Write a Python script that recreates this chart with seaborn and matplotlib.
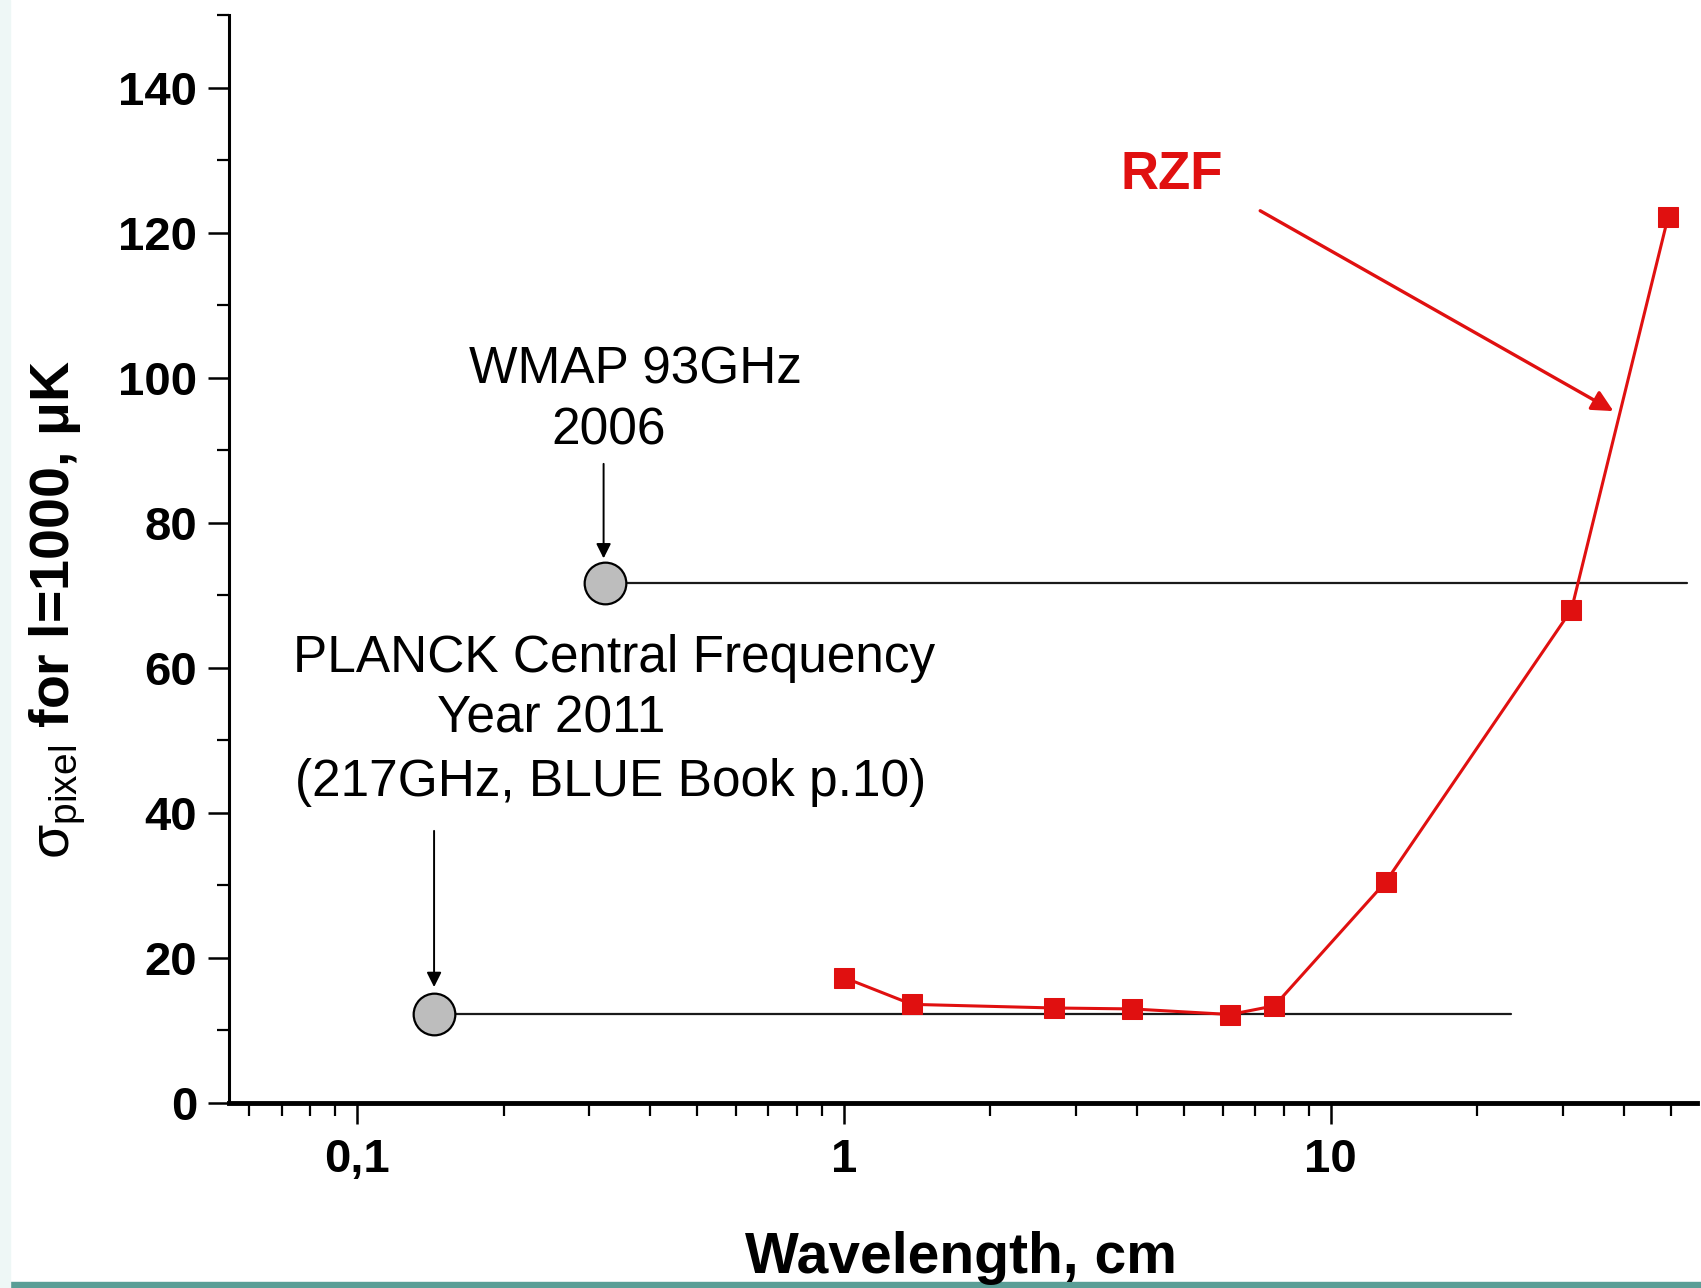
import numpy as np
import pandas as pd
import matplotlib
matplotlib.use("Agg")
import matplotlib.pyplot as plt
import matplotlib.ticker as mticker
from matplotlib.patches import Rectangle
import seaborn as sns

# ---- data ----
rzf_wavelength = [1.0, 1.38, 2.70, 3.91, 6.21, 7.66, 12.97, 31.2, 49.3]
rzf_sigma = [17.3, 13.6, 13.1, 12.97, 12.2, 13.4, 30.5, 68.0, 122.2]

wmap_wavelength = [0.323, 53.8]
wmap_sigma = [71.7, 71.7]
planck_wavelength = [0.144, 23.4]
planck_sigma = [12.3, 12.3]

y_ticks = [0, 20, 40, 60, 80, 100, 120, 140]
x_ticks = [0.1, 1, 10]
x_tick_labels = ["0,1", "1", "10"]

sns.set_theme(style="ticks")
plt.rcParams['font.family'] = ['Liberation Sans', 'DejaVu Sans']
plt.rcParams['mathtext.fontset'] = 'custom'
plt.rcParams['mathtext.rm'] = 'Liberation Sans'
plt.rcParams['mathtext.it'] = 'Liberation Sans:italic'
plt.rcParams['mathtext.bf'] = 'Liberation Sans:bold'
plt.rcParams['text.color'] = 'black'
plt.rcParams['axes.labelcolor'] = 'black'
plt.rcParams['xtick.color'] = 'black'
plt.rcParams['ytick.color'] = 'black'

fig = plt.figure(figsize=(17.01, 12.88), dpi=100)
fig.patch.set_facecolor("white")
ax = fig.add_axes([229/1701, 1 - 1103/1288, (1697 - 229)/1701, (1103 - 15)/1288])
ax.set_facecolor("white")

# decorative frame elements
fig.patches.append(Rectangle((0, 0), 1, 6/1288, transform=fig.transFigure,
                             color="#5a9e96", zorder=0))
fig.patches.append(Rectangle((0, 0), 10/1701, 1, transform=fig.transFigure,
                             color="#eef7f6", zorder=0))

red = "#e01010"

# reference lines
df_w = pd.DataFrame({"x": wmap_wavelength, "y": wmap_sigma})
df_p = pd.DataFrame({"x": planck_wavelength, "y": planck_sigma})
sns.lineplot(data=df_w, x="x", y="y", ax=ax, color="#1a1a1a", lw=1.6, zorder=2)
sns.lineplot(data=df_p, x="x", y="y", ax=ax, color="#1a1a1a", lw=1.6, zorder=2)
ax.plot(wmap_wavelength[:1], wmap_sigma[:1], "o", ms=30, mfc="#bdbdbd",
        mec="black", mew=1.6, zorder=4)
ax.plot(planck_wavelength[:1], planck_sigma[:1], "o", ms=30, mfc="#bdbdbd",
        mec="black", mew=1.6, zorder=4)

# RZF curve
df_r = pd.DataFrame({"x": rzf_wavelength, "y": rzf_sigma})
sns.lineplot(data=df_r, x="x", y="y", ax=ax, color=red, lw=2.2, marker="s",
             markersize=14, markeredgecolor=red, markerfacecolor=red, zorder=5)

ax.set_xscale("log")
ax.set_xlim(0.0546, 56.5)
ax.set_ylim(0, 150)

ax.set_xticks(x_ticks)
ax.set_xticklabels(x_tick_labels)
ax.xaxis.set_minor_locator(mticker.LogLocator(base=10, subs=np.arange(2, 10)))
ax.xaxis.set_minor_formatter(mticker.NullFormatter())
ax.set_yticks(y_ticks)
ax.yaxis.set_minor_locator(mticker.MultipleLocator(10))

for lab in ax.get_xticklabels() + ax.get_yticklabels():
    lab.set_fontweight("bold")
ax.tick_params(axis="both", which="major", labelsize=34, length=15, width=1.8,
               direction="out", color="black", pad=8)
ax.tick_params(axis="both", which="minor", length=9, width=1.6, direction="out",
               color="black")
ax.tick_params(axis="x", which="major", pad=10)

sns.despine(ax=ax)
ax.spines["left"].set_linewidth(2.2)
ax.spines["bottom"].set_linewidth(3.5)
ax.spines["left"].set_color("black")
ax.spines["bottom"].set_color("black")

ax.set_xlabel("")
ax.set_ylabel("")
fig.text(961/1701, 1 - 1273/1288, "Wavelength, cm", fontsize=41,
         fontweight="bold", ha="center", va="baseline")
fig.text(58/1701, 1 - 610/1288, r"$\mathrm{\sigma}_{\mathrm{pixel}}$ for l=1000, μK",
         fontsize=40, fontweight="bold", rotation=90, ha="center", va="center")

# annotations
fs = 37
ax.text(0.374, 101.1, "WMAP 93GHz", fontsize=fs, ha="center", va="center")
ax.text(0.329, 92.6, "2006", fontsize=fs, ha="center", va="center")
ax.annotate("", xy=(0.321, 74.7), xytext=(0.321, 88.5),
            arrowprops=dict(arrowstyle="-|>", color="black", lw=1.4,
                            mutation_scale=22))

ax.text(0.337, 61.3, "PLANCK Central Frequency", fontsize=fs, ha="center", va="center")
ax.text(0.250, 52.9, "Year 2011", fontsize=fs, ha="center", va="center")
ax.text(0.331, 44.2, "(217GHz, BLUE Book p.10)", fontsize=fs, ha="center", va="center")
ax.annotate("", xy=(0.144, 15.6), xytext=(0.144, 37.9),
            arrowprops=dict(arrowstyle="-|>", color="black", lw=1.4,
                            mutation_scale=22))

ax.text(4.72, 128.0, "RZF", fontsize=38, fontweight="bold", color=red,
        ha="center", va="center")
ax.annotate("", xy=(38.5, 95.2), xytext=(7.08, 123.2),
            arrowprops=dict(arrowstyle="-|>", color=red, lw=2.4,
                            mutation_scale=32))

fig.savefig("out.png", dpi=100, facecolor="white")
